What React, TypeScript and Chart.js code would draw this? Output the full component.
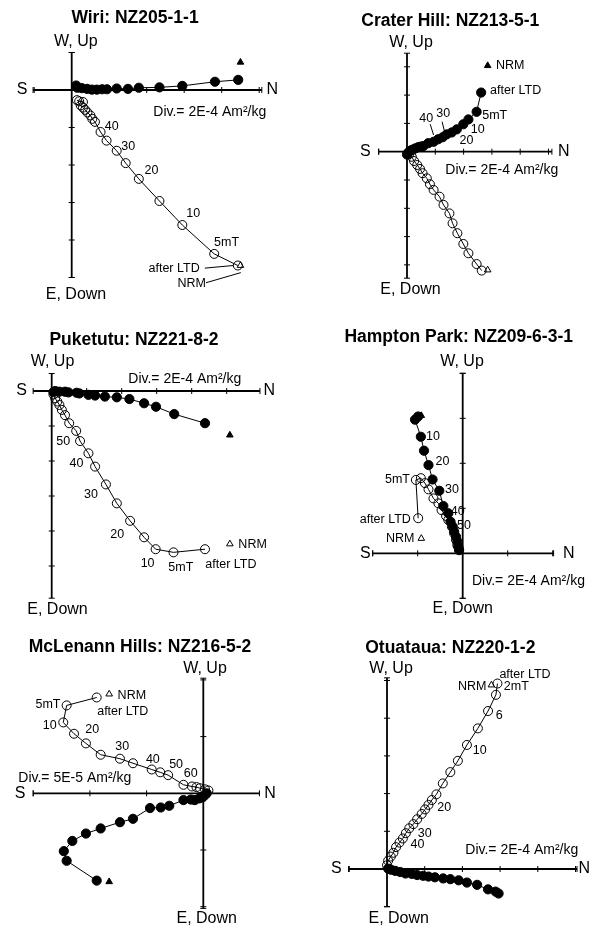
import React, { useEffect, useRef } from 'react';
import { Chart, registerables } from 'chart.js';

Chart.register(...registerables);

const PAGE_W = 597;
const PAGE_H = 929;
const FONT = '"Liberation Sans", Arial, Helvetica, sans-serif';

// All values are in axis divisions (one tick = one "Div." of the panel).
// Solid symbols: horizontal projection (N vs W); open symbols: vertical projection (N vs Up).

// ---- Wiri: NZ205-1-1 (Div. = 2E-4 Am2/kg)
const wiriHorizN = [4.44, 3.82, 2.95, 2.34, 1.79, 1.5, 1.2, 0.94, 0.81, 0.67, 0.54, 0.41, 0.27, 0.15, 0.12];
const wiriHorizW = [0.27, 0.22, 0.11, 0.07, 0.06, 0.03, 0.04, 0.02, 0.02, 0.01, 0.01, 0.03, 0.05, 0.06, 0.12];
const wiriVertN = [4.43, 3.8, 2.95, 2.34, 1.79, 1.44, 1.2, 0.93, 0.77, 0.62, 0.55, 0.5, 0.42, 0.36, 0.3, 0.24, 0.3, 0.2, 0.14];
const wiriVertUp = [-4.68, -4.37, -3.6, -2.96, -2.37, -1.95, -1.62, -1.35, -1.12, -0.85, -0.77, -0.68, -0.6, -0.53, -0.47, -0.41, -0.32, -0.3, -0.27];
const wiriNrmN = [4.5];
const wiriNrmW = [0.74];
const wiriNrmUp = [-4.68];

// ---- Crater Hill: NZ213-5-1 (Div. = 2E-4 Am2/kg)
const craterHorizN = [2.62, 2.46, 2.17, 1.99, 1.76, 1.58, 1.4, 1.26, 1.1, 0.94, 0.75, 0.58, 0.48, 0.4, 0.3, 0.22, 0.14, 0.08, 0.03, 0.0];
const craterHorizW = [2.09, 1.41, 1.14, 0.97, 0.79, 0.68, 0.61, 0.51, 0.44, 0.35, 0.3, 0.2, 0.18, 0.16, 0.12, 0.08, 0.05, 0.0, -0.05, -0.1];
const craterVertN = [2.64, 2.46, 2.17, 1.99, 1.78, 1.61, 1.5, 1.29, 1.15, 0.94, 0.81, 0.7, 0.55, 0.46, 0.36, 0.25, 0.17, 0.08];
const craterVertUp = [-4.2, -3.97, -3.59, -3.26, -2.88, -2.53, -2.18, -1.88, -1.59, -1.35, -1.15, -0.94, -0.76, -0.61, -0.47, -0.33, -0.18, -0.08];
const craterNrmN = [2.85];
const craterNrmW = [3.04];
const craterNrmUp = [-4.18];

// ---- Puketutu: NZ221-8-2 (Div. = 2E-4 Am2/kg)
const puketutuHorizN = [4.38, 3.5, 2.98, 2.64, 2.22, 1.86, 1.52, 1.24, 1.05, 0.79, 0.71, 0.48, 0.38, 0.22, 0.1, 0.05];
const puketutuHorizW = [-0.92, -0.66, -0.45, -0.35, -0.23, -0.18, -0.16, -0.13, -0.11, -0.07, -0.05, -0.04, -0.02, -0.02, 0.0, -0.03];
const puketutuVertN = [4.38, 3.48, 2.97, 2.64, 2.24, 1.86, 1.55, 1.24, 1.05, 0.81, 0.7, 0.5, 0.38, 0.29, 0.22, 0.16, 0.1, 0.05];
const puketutuVertUp = [-4.52, -4.61, -4.52, -4.18, -3.71, -3.21, -2.67, -2.16, -1.78, -1.43, -1.14, -0.92, -0.69, -0.54, -0.4, -0.3, -0.21, -0.1];
const puketutuNrmN = [5.09];
const puketutuNrmW = [-1.26];
const puketutuNrmUp = [-4.37];

// ---- Hampton Park: NZ209-6-3-1 (Div. = 2E-4 Am2/kg)
const hamptonHorizN = [-0.99, -1.06, -0.93, -0.86, -0.76, -0.67, -0.52, -0.43, -0.32, -0.27, -0.22, -0.19, -0.15, -0.12, -0.1, -0.08];
const hamptonHorizW = [3.04, 2.97, 2.59, 2.28, 1.96, 1.64, 1.39, 1.05, 0.89, 0.7, 0.59, 0.48, 0.37, 0.26, 0.15, 0.07];
const hamptonVertN = [-0.99, -1.04, -0.93, -0.84, -0.76, -0.65, -0.54, -0.47, -0.37, -0.32, -0.24, -0.19, -0.15, -0.12, -0.08];
const hamptonVertUp = [0.78, 1.63, 1.67, 1.56, 1.42, 1.22, 1.11, 0.96, 0.83, 0.74, 0.59, 0.44, 0.3, 0.18, 0.09];
const hamptonNrmN = [-0.92];
const hamptonNrmW = [3.06];
const hamptonNrmUp = [0.33];

// ---- McLenann Hills: NZ216-5-2 (Div. = 5E-5 Am2/kg)
const mclenannHorizN = [-1.88, -2.41, -2.46, -2.31, -2.07, -1.81, -1.47, -1.24, -0.94, -0.75, -0.6, -0.35, -0.22, -0.15, -0.07, -0.01, 0.03, 0.06];
const mclenannHorizW = [-1.54, -1.19, -1.02, -0.84, -0.71, -0.62, -0.51, -0.45, -0.26, -0.25, -0.22, -0.12, -0.11, -0.12, -0.09, -0.07, -0.03, 0.0];
const mclenannVertN = [-1.88, -2.41, -2.47, -2.28, -2.07, -1.81, -1.47, -1.24, -0.91, -0.76, -0.62, -0.35, -0.2, -0.12, -0.06, 0.03, 0.09];
const mclenannVertUp = [1.69, 1.55, 1.25, 1.05, 0.88, 0.68, 0.61, 0.53, 0.42, 0.37, 0.32, 0.15, 0.12, 0.11, 0.09, 0.07, 0.05];
const mclenannNrmN = [-1.66];
const mclenannNrmW = [-1.56];
const mclenannNrmUp = [1.75];

// ---- Otuataua: NZ220-1-2 (Div. = 2E-4 Am2/kg)
const otuatauaHorizN = [2.96, 2.88, 2.68, 2.39, 2.12, 1.9, 1.68, 1.49, 1.27, 1.1, 0.96, 0.8, 0.66, 0.49, 0.35, 0.22, 0.11, 0.03];
const otuatauaHorizW = [-0.65, -0.6, -0.54, -0.42, -0.36, -0.3, -0.27, -0.25, -0.22, -0.2, -0.18, -0.16, -0.13, -0.12, -0.08, -0.05, -0.02, 0.01];
const otuatauaVertN = [2.93, 2.89, 2.68, 2.41, 2.12, 1.88, 1.68, 1.48, 1.31, 1.19, 1.1, 1.01, 0.92, 0.8, 0.7, 0.59, 0.5, 0.42, 0.33, 0.24, 0.17, 0.1, 0.03, 0.0];
const otuatauaVertUp = [4.92, 4.62, 4.19, 3.73, 3.29, 2.87, 2.57, 2.27, 1.98, 1.83, 1.7, 1.58, 1.46, 1.32, 1.19, 1.08, 0.95, 0.81, 0.7, 0.58, 0.43, 0.33, 0.22, 0.1];
const otuatauaNrmN = [2.77];
const otuatauaNrmW: number[] = [];
const otuatauaNrmUp = [4.88];

type Note = { t: string; x: number; y: number };
type Panel = {
  title: string;
  div: string;
  horizN: number[]; horizW: number[];
  vertN: number[]; vertUp: number[];
  nrmN: number[]; nrmW: number[]; nrmUp: number[];
  notes: Note[];
  leaders: number[][];
  // layout (pixels)
  origin: [number, number];
  unit: number;
  range: [number, number, number, number]; // xmin, xmax, ymin, ymax (divisions)
  pos: { title: number[]; wUp: number[]; eDown: number[]; s: number; n: number; div: number[] };
};

const panels: Panel[] = [
  {
    title: 'Wiri: NZ205-1-1', div: 'Div.= 2E-4 Am\u00B2/kg',
    horizN: wiriHorizN, horizW: wiriHorizW, vertN: wiriVertN, vertUp: wiriVertUp,
    nrmN: wiriNrmN, nrmW: wiriNrmW, nrmUp: wiriNrmUp,
    notes: [
      { t: '40', x: 1.07, y: -0.98 }, { t: '30', x: 1.51, y: -1.51 }, { t: '20', x: 2.13, y: -2.15 },
      { t: '10', x: 3.24, y: -3.29 }, { t: '5mT', x: 4.13, y: -4.07 },
      { t: 'after LTD', x: 2.73, y: -4.75 }, { t: 'NRM', x: 3.2, y: -5.16 },
    ],
    leaders: [[3.55, -4.75, 4.31, -4.68], [3.58, -5.14, 4.51, -4.87]],
    origin: [71.7, 90], unit: 37.5, range: [-1.03, 5.07, -5.0, 1.0],
    pos: { title: [63.3, -72], wUp: [4.1, -48.7], eDown: [4.3, 205], s: -49.7, n: 200.6, div: [81.6, 22] },
  },
  {
    title: 'Crater Hill: NZ213-5-1', div: 'Div.= 2E-4 Am\u00B2/kg',
    horizN: craterHorizN, horizW: craterHorizW, vertN: craterVertN, vertUp: craterVertUp,
    nrmN: craterNrmN, nrmW: craterNrmW, nrmUp: craterNrmUp,
    notes: [
      { t: 'NRM', x: 3.65, y: 3.06 }, { t: 'after LTD', x: 3.84, y: 2.16 }, { t: '5mT', x: 3.1, y: 1.26 },
      { t: '10', x: 2.5, y: 0.79 }, { t: '20', x: 2.1, y: 0.39 }, { t: '30', x: 1.28, y: 1.36 },
      { t: '40', x: 0.68, y: 1.16 },
    ],
    leaders: [[0.82, 0.97, 0.94, 0.59], [1.24, 1.06, 1.32, 0.74]],
    origin: [407, 151.7], unit: 28.3, range: [-1.0, 5.12, -4.47, 3.48],
    pos: { title: [43.3, -131], wUp: [4, -109.2], eDown: [3.5, 138.3], s: -41.7, n: 156.7, div: [38.3, 18.3] },
  },
  {
    title: 'Puketutu: NZ221-8-2', div: 'Div.= 2E-4 Am\u00B2/kg',
    horizN: puketutuHorizN, horizW: puketutuHorizW, vertN: puketutuVertN, vertUp: puketutuVertUp,
    nrmN: puketutuNrmN, nrmW: puketutuNrmW, nrmUp: puketutuNrmUp,
    notes: [
      { t: 'NRM', x: 5.74, y: -4.4 }, { t: 'after LTD', x: 5.12, y: -4.95 }, { t: '5mT', x: 3.69, y: -5.05 },
      { t: '10', x: 2.74, y: -4.92 }, { t: '20', x: 1.87, y: -4.11 }, { t: '30', x: 1.12, y: -2.95 },
      { t: '40', x: 0.71, y: -2.07 }, { t: '50', x: 0.33, y: -1.43 },
    ],
    leaders: [],
    origin: [51.7, 391], unit: 35, range: [-0.53, 5.95, -5.92, 0.5],
    pos: { title: [82.3, -51], wUp: [0.8, -29.3], eDown: [5.8, 219], s: -30, n: 217.6, div: [76.6, -12] },
  },
  {
    title: 'Hampton Park: NZ209-6-3-1', div: 'Div.= 2E-4 Am\u00B2/kg',
    horizN: hamptonHorizN, horizW: hamptonHorizW, vertN: hamptonVertN, vertUp: hamptonVertUp,
    nrmN: hamptonNrmN, nrmW: hamptonNrmW, nrmUp: hamptonNrmUp,
    notes: [
      { t: '10', x: -0.66, y: 2.59 }, { t: '20', x: -0.45, y: 2.05 }, { t: '30', x: -0.24, y: 1.42 },
      { t: '40', x: -0.11, y: 0.92 }, { t: '50', x: 0.03, y: 0.61 }, { t: '5mT', x: -1.45, y: 1.63 },
      { t: 'after LTD', x: -1.72, y: 0.74 }, { t: 'NRM', x: -1.39, y: 0.33 },
    ],
    leaders: [],
    origin: [462.7, 553.3], unit: 45, range: [-2.0, 2.02, -1.0, 4.0],
    pos: { title: [-4, -216], wUp: [-0.7, -191.6], eDown: [0, 55.7], s: -97.4, n: 106, div: [9.3, 27.7] },
  },
  {
    title: 'McLenann Hills: NZ216-5-2', div: 'Div.= 5E-5 Am\u00B2/kg',
    horizN: mclenannHorizN, horizW: mclenannHorizW, vertN: mclenannVertN, vertUp: mclenannVertUp,
    nrmN: mclenannNrmN, nrmW: mclenannNrmW, nrmUp: mclenannNrmUp,
    notes: [
      { t: '5mT', x: -2.74, y: 1.57 }, { t: '10', x: -2.71, y: 1.2 }, { t: '20', x: -1.96, y: 1.12 },
      { t: '30', x: -1.43, y: 0.82 }, { t: '40', x: -0.89, y: 0.6 }, { t: '50', x: -0.48, y: 0.5 },
      { t: '60', x: -0.22, y: 0.35 }, { t: 'NRM', x: -1.26, y: 1.73 }, { t: 'after LTD', x: -1.42, y: 1.45 },
    ],
    leaders: [],
    origin: [203.3, 793.3], unit: 56.7, range: [-3.0, 0.99, -2.03, 2.03],
    pos: { title: [-63.3, -146.6], wUp: [1.7, -125], eDown: [3.4, 125], s: -183.3, n: 66.7, div: [-185, -15] },
  },
  {
    title: 'Otuataua: NZ220-1-2', div: 'Div.= 2E-4 Am\u00B2/kg',
    horizN: otuatauaHorizN, horizW: otuatauaHorizW, vertN: otuatauaVertN, vertUp: otuatauaVertUp,
    nrmN: otuatauaNrmN, nrmW: otuatauaNrmW, nrmUp: otuatauaNrmUp,
    notes: [
      { t: 'after LTD', x: 3.66, y: 5.15 }, { t: 'NRM', x: 2.26, y: 4.84 }, { t: '2mT', x: 3.43, y: 4.84 },
      { t: '6', x: 2.98, y: 4.08 }, { t: '10', x: 2.46, y: 3.13 }, { t: '20', x: 1.52, y: 1.63 },
      { t: '30', x: 1.0, y: 0.95 }, { t: '40', x: 0.81, y: 0.64 },
    ],
    leaders: [],
    origin: [387, 869], unit: 37.7, range: [-1.02, 5.04, -1.0, 5.07],
    pos: { title: [63.3, -220.7], wUp: [4, -200.7], eDown: [11.7, 50], s: -50.7, n: 197.3, div: [78.3, -19] },
  },
];

function pts(xs: number[], ys: number[]) {
  const out: { x: number; y: number }[] = [];
  for (let i = 0; i < Math.min(xs.length, ys.length); i++) out.push({ x: xs[i], y: ys[i] });
  return out;
}

function makePlugin(p: Panel) {
  return {
    id: 'zijderveld',
    beforeDatasetsDraw(chart: any) {
      const ctx = chart.ctx as CanvasRenderingContext2D;
      const xs = chart.scales.x;
      const ys = chart.scales.y;
      const ox = xs.getPixelForValue(0);
      const oy = ys.getPixelForValue(0);
      ctx.save();
      ctx.strokeStyle = '#000';
      ctx.lineWidth = 1.8;
      ctx.beginPath();
      ctx.moveTo(xs.left, oy);
      ctx.lineTo(xs.right, oy);
      ctx.moveTo(ox, ys.top);
      ctx.lineTo(ox, ys.bottom);
      ctx.stroke();
      ctx.lineWidth = 1;
      const tl = 3;
      ctx.beginPath();
      const xv: number[] = [xs.min, xs.max];
      for (let v = Math.ceil(xs.min); v <= Math.floor(xs.max); v++) if (v !== 0) xv.push(v);
      xv.forEach((v) => {
        const px = xs.getPixelForValue(v);
        ctx.moveTo(px, oy - tl);
        ctx.lineTo(px, oy + tl);
      });
      const yv: number[] = [ys.min, ys.max];
      for (let v = Math.ceil(ys.min); v <= Math.floor(ys.max); v++) if (v !== 0) yv.push(v);
      yv.forEach((v) => {
        const py = ys.getPixelForValue(v);
        ctx.moveTo(ox - tl, py);
        ctx.lineTo(ox + tl, py);
      });
      ctx.stroke();
      ctx.restore();
    },
    afterDraw(chart: any) {
      const ctx = chart.ctx as CanvasRenderingContext2D;
      const xs = chart.scales.x;
      const ys = chart.scales.y;
      const ox = xs.getPixelForValue(0);
      const oy = ys.getPixelForValue(0);
      ctx.save();
      ctx.fillStyle = '#000';
      ctx.strokeStyle = '#000';
      ctx.textBaseline = 'middle';
      const put = (s: string, x: number, y: number, font: string, align: CanvasTextAlign = 'center') => {
        ctx.font = font;
        ctx.textAlign = align;
        ctx.fillText(s, x, y);
      };
      put(p.title, ox + p.pos.title[0], oy + p.pos.title[1], `bold 17.5px ${FONT}`);
      put('W, Up', ox + p.pos.wUp[0], oy + p.pos.wUp[1], `16px ${FONT}`);
      put('E, Down', ox + p.pos.eDown[0], oy + p.pos.eDown[1], `16px ${FONT}`);
      put('S', ox + p.pos.s, oy, `16px ${FONT}`);
      put('N', ox + p.pos.n, oy, `16px ${FONT}`);
      put(p.div, ox + p.pos.div[0], oy + p.pos.div[1], `14px ${FONT}`, 'left');
      p.notes.forEach((nt) => {
        put(nt.t, xs.getPixelForValue(nt.x), ys.getPixelForValue(nt.y), `12.5px ${FONT}`);
      });
      ctx.lineWidth = 1;
      p.leaders.forEach((l) => {
        ctx.beginPath();
        ctx.moveTo(xs.getPixelForValue(l[0]), ys.getPixelForValue(l[1]));
        ctx.lineTo(xs.getPixelForValue(l[2]), ys.getPixelForValue(l[3]));
        ctx.stroke();
      });
      ctx.restore();
    },
  };
}

function ZijPanel({ p }: { p: Panel }) {
  const ref = useRef<HTMLCanvasElement | null>(null);
  useEffect(() => {
    const canvas = ref.current;
    if (!canvas) return;
    const [ox, oy] = p.origin;
    const u = p.unit;
    const [x0, x1, y0, y1] = p.range;
    const padding = {
      left: ox + x0 * u,
      right: PAGE_W - (ox + x1 * u),
      top: oy - y1 * u,
      bottom: PAGE_H - (oy - y0 * u),
    };
    const common = { clip: false as const, borderColor: '#000', pointBorderColor: '#000', pointBorderWidth: 1 };
    const datasets: any[] = [
      {
        ...common,
        label: 'horizontal',
        data: pts(p.horizN, p.horizW),
        showLine: true,
        borderWidth: 1,
        pointRadius: 4.6,
        pointBackgroundColor: '#000',
      },
      {
        ...common,
        label: 'vertical',
        data: pts(p.vertN, p.vertUp),
        showLine: true,
        borderWidth: 1,
        pointRadius: 4.5,
        pointBackgroundColor: 'rgba(0,0,0,0)',
      },
      {
        ...common,
        label: 'NRM vertical',
        data: pts(p.nrmN, p.nrmUp),
        showLine: false,
        pointStyle: 'triangle',
        pointRadius: 3.8,
        pointBackgroundColor: '#fff',
      },
      {
        ...common,
        label: 'NRM horizontal',
        data: pts(p.nrmN, p.nrmW),
        showLine: false,
        pointStyle: 'triangle',
        pointRadius: 3.8,
        pointBackgroundColor: '#000',
      },
    ];
    const chart = new Chart(canvas, {
      type: 'scatter',
      data: { datasets },
      options: {
        responsive: false,
        animation: false,
        devicePixelRatio: 1,
        events: [],
        layout: { padding },
        elements: { line: { tension: 0 } },
        plugins: { legend: { display: false }, title: { display: false }, tooltip: { enabled: false } },
        scales: {
          x: { type: 'linear', min: x0, max: x1, display: false },
          y: { type: 'linear', min: y0, max: y1, display: false },
        },
      },
      plugins: [makePlugin(p)],
    } as any);
    return () => chart.destroy();
  }, [p]);
  return (
    <canvas
      ref={ref}
      width={PAGE_W}
      height={PAGE_H}
      style={{ position: 'absolute', left: 0, top: 0, width: PAGE_W, height: PAGE_H }}
    />
  );
}

export default function App() {
  return (
    <div style={{ position: 'fixed', left: 0, top: 0, width: PAGE_W, height: PAGE_H, background: '#fff', overflow: 'hidden' }}>
      {panels.map((p, i) => (
        <ZijPanel key={i} p={p} />
      ))}
    </div>
  );
}
